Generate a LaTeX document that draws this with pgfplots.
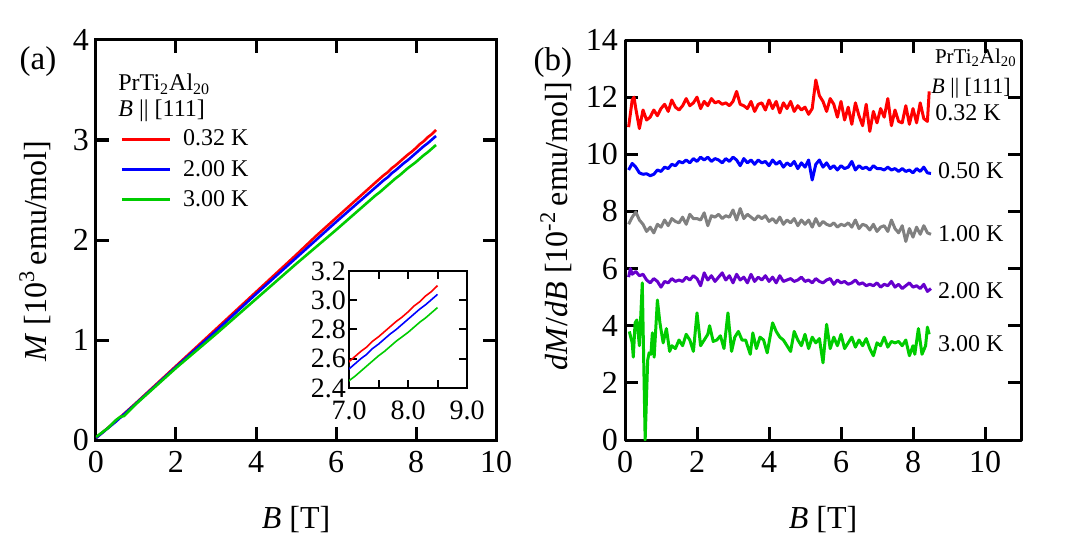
\documentclass[border=0pt]{standalone}
\usepackage{fontspec}
\setmainfont{Liberation Serif}
\usepackage{pgfplots}
\usepackage{pgfplotstable}
\pgfplotsset{compat=1.18}
\definecolor{cred}{RGB}{255,0,0}
\definecolor{cblue}{RGB}{0,0,255}
\definecolor{cgreen}{RGB}{0,204,0}
\definecolor{cgray}{RGB}{128,128,128}
\definecolor{cpurple}{RGB}{102,0,204}

\pgfplotstableread{
B M
0.0 0.02
0.5 0.19
1.0 0.37
2.0 0.74
3.0 1.11
4.0 1.48
5.0 1.85
5.5 2.04
6.0 2.22
6.5 2.40
7.0 2.58
7.1 2.615
7.2 2.65
7.3 2.68
7.4 2.72
7.5 2.75
7.6 2.785
7.7 2.82
7.8 2.855
7.9 2.885
8.0 2.92
8.1 2.96
8.2 2.99
8.3 3.03
8.4 3.06
8.5 3.10
}\redM
\pgfplotstableread{
B M
0.0 0.02
0.5 0.185
1.0 0.365
2.0 0.73
3.0 1.09
4.0 1.46
5.0 1.82
6.0 2.18
6.5 2.355
7.0 2.53
7.1 2.565
7.2 2.60
7.3 2.63
7.4 2.67
7.5 2.70
7.6 2.735
7.7 2.77
7.8 2.80
7.9 2.835
8.0 2.87
8.1 2.905
8.2 2.94
8.3 2.97
8.4 3.005
8.5 3.04
}\blueM
\pgfplotstableread{
B M
0.0 0.03
0.3 0.12
0.5 0.20
0.6 0.23
0.7 0.24
1.0 0.36
2.0 0.72
3.0 1.06
4.0 1.41
5.0 1.76
6.0 2.10
6.5 2.275
7.0 2.45
7.1 2.48
7.2 2.515
7.3 2.55
7.4 2.585
7.5 2.62
7.6 2.65
7.7 2.685
7.8 2.72
7.9 2.75
8.0 2.78
8.1 2.815
8.2 2.85
8.3 2.88
8.4 2.915
8.5 2.95
}\greenM

\pgfplotstableread{
B D
0.1 10.95
0.2 11.9
0.25 12.0
0.3 11.6
0.4 10.9
0.5 11.55
0.6 11.2
0.7 11.3
0.8 11.55
0.9 11.35
1.0 11.6
1.1 11.75
1.2 11.5
1.3 11.9
1.4 11.65
1.5 11.55
1.6 11.7
1.7 11.95
1.8 11.7
1.9 11.8
2.0 12.0
2.1 11.6
2.2 11.85
2.3 11.7
2.4 11.95
2.5 11.8
2.6 11.85
2.7 11.75
2.8 11.8
2.9 11.7
3.0 11.85
3.1 12.2
3.2 11.75
3.3 11.7
3.4 11.6
3.5 11.85
3.6 11.5
3.7 11.75
3.8 11.8
3.9 11.55
4.0 11.9
4.1 11.6
4.2 11.85
4.3 11.45
4.4 11.8
4.5 11.6
4.6 11.85
4.7 11.5
4.8 11.7
4.9 11.55
5.0 11.65
5.1 11.4
5.2 11.6
5.3 12.6
5.4 12.05
5.5 11.85
5.6 11.5
5.7 11.95
5.8 11.75
5.9 11.3
6.0 11.85
6.1 11.2
6.2 11.65
6.3 11.05
6.4 11.8
6.5 11.35
6.6 11.0
6.7 11.75
6.8 10.8
6.9 11.5
7.0 11.1
7.1 11.6
7.2 11.3
7.3 11.95
7.4 11.0
7.5 11.55
7.6 11.15
7.7 11.1
7.8 11.7
7.9 11.05
8.0 11.6
8.1 11.1
8.2 11.8
8.3 11.25
8.4 11.15
8.45 12.2
}\dA
\pgfplotstableread{
B D
0.1 9.45
0.2 9.68
0.3 9.55
0.4 9.35
0.5 9.3
0.6 9.32
0.7 9.25
0.8 9.3
0.9 9.45
1.0 9.4
1.1 9.55
1.2 9.5
1.3 9.65
1.4 9.6
1.5 9.75
1.6 9.7
1.7 9.8
1.8 9.7
1.9 9.85
2.0 9.75
2.1 9.9
2.2 9.8
2.3 9.9
2.4 9.75
2.5 9.85
2.6 9.8
2.7 9.7
2.8 9.85
2.9 9.75
3.0 9.9
3.1 9.8
3.2 9.6
3.3 9.85
3.4 9.7
3.5 9.8
3.6 9.65
3.7 9.8
3.8 9.7
3.9 9.75
4.0 9.6
4.1 9.8
4.2 9.65
4.3 9.75
4.4 9.55
4.5 9.7
4.6 9.6
4.7 9.75
4.8 9.5
4.9 9.7
5.0 9.55
5.1 9.8
5.2 9.1
5.3 9.65
5.4 9.8
5.5 9.55
5.6 9.7
5.7 9.5
5.8 9.6
5.9 9.45
6.0 9.6
6.1 9.5
6.2 9.55
6.3 9.75
6.4 9.45
6.5 9.6
6.6 9.5
6.7 9.55
6.8 9.45
6.9 9.6
7.0 9.5
7.1 9.5
7.2 9.45
7.3 9.55
7.4 9.45
7.5 9.5
7.6 9.4
7.7 9.5
7.8 9.4
7.9 9.45
8.0 9.35
8.1 9.5
8.2 9.4
8.3 9.55
8.4 9.35
8.5 9.33
}\dB
\pgfplotstableread{
B D
0.1 7.55
0.2 7.8
0.3 7.98
0.4 7.7
0.5 7.55
0.6 7.3
0.7 7.45
0.8 7.25
0.9 7.55
1.0 7.45
1.1 7.7
1.2 7.5
1.3 7.75
1.4 7.65
1.5 7.6
1.6 7.8
1.7 7.55
1.8 7.9
1.9 7.75
2.0 7.75
2.1 7.7
2.2 7.95
2.3 7.5
2.4 7.85
2.5 7.8
2.6 7.9
2.7 7.75
2.8 7.85
2.9 7.8
3.0 8.05
3.1 7.7
3.2 8.1
3.3 7.75
3.4 7.9
3.5 7.8
3.6 7.7
3.7 7.85
3.8 7.75
3.9 7.85
4.0 7.65
4.1 7.75
4.2 7.6
4.3 7.8
4.4 7.55
4.5 7.7
4.6 7.6
4.7 7.75
4.8 7.5
4.9 7.7
5.0 7.55
5.1 7.7
5.2 7.45
5.3 7.75
5.4 7.5
5.5 7.65
5.6 7.55
5.7 7.5
5.8 7.6
5.9 7.45
6.0 7.55
6.1 7.5
6.2 7.6
6.3 7.45
6.4 7.7
6.5 7.4
6.6 7.55
6.7 7.5
6.8 7.35
6.9 7.55
7.0 7.3
7.1 7.45
7.2 7.5
7.3 7.3
7.4 7.7
7.5 7.4
7.6 7.25
7.7 7.5
7.8 6.95
7.9 7.4
8.0 7.1
8.1 7.45
8.2 7.2
8.3 7.5
8.4 7.25
8.5 7.2
}\dC
\pgfplotstableread{
B D
0.1 5.7
0.15 6.0
0.2 5.8
0.3 5.9
0.4 5.75
0.5 5.8
0.6 5.6
0.7 5.5
0.8 5.65
0.9 5.55
1.0 5.35
1.1 5.55
1.2 5.5
1.3 5.65
1.4 5.55
1.5 5.6
1.6 5.55
1.7 5.7
1.8 5.6
1.9 5.75
2.0 5.65
2.1 5.4
2.2 5.85
2.3 5.6
2.4 5.75
2.5 5.55
2.6 5.7
2.7 5.85
2.8 5.6
2.9 5.75
3.0 5.5
3.1 5.8
3.2 5.6
3.3 5.7
3.4 5.5
3.5 5.8
3.6 5.55
3.7 5.7
3.8 5.6
3.9 5.75
4.0 5.55
4.1 5.7
4.2 5.5
4.3 5.75
4.4 5.55
4.5 5.6
4.6 5.65
4.7 5.55
4.8 5.6
4.9 5.7
5.0 5.55
5.1 5.6
5.2 5.5
5.3 5.65
5.4 5.55
5.5 5.5
5.6 5.6
5.7 5.65
5.8 5.45
5.9 5.6
6.0 5.5
6.1 5.55
6.2 5.45
6.3 5.5
6.4 5.6
6.5 5.45
6.6 5.5
6.7 5.4
6.8 5.45
6.9 5.4
7.0 5.5
7.1 5.35
7.2 5.45
7.3 5.4
7.4 5.55
7.5 5.35
7.6 5.45
7.7 5.3
7.8 5.4
7.9 5.5
8.0 5.35
8.1 5.4
8.2 5.3
8.3 5.45
8.4 5.2
8.5 5.3
}\dD
\pgfplotstableread{
B D
0.12 3.8
0.2 3.4
0.23 2.9
0.28 4.1
0.33 4.2
0.4 3.3
0.48 5.5
0.56 0.0
0.63 2.8
0.67 3.05
0.72 3.0
0.76 3.75
0.81 2.9
0.9 4.9
0.97 4.1
1.06 3.4
1.15 3.9
1.24 3.1
1.3 3.3
1.4 3.2
1.5 3.5
1.6 3.3
1.7 3.7
1.8 3.5
1.9 3.1
2.0 4.45
2.1 3.3
2.2 3.5
2.3 3.7
2.35 4.0
2.45 3.45
2.55 3.5
2.65 3.65
2.75 3.2
2.86 4.45
2.96 3.1
3.05 3.6
3.15 3.8
3.25 3.5
3.35 3.5
3.48 3.0
3.55 3.75
3.65 3.2
3.75 3.6
3.85 3.5
3.95 3.05
4.1 4.1
4.2 3.8
4.3 3.6
4.4 3.5
4.5 3.3
4.6 3.1
4.7 3.8
4.8 3.5
4.9 3.3
5.0 3.7
5.1 3.2
5.2 3.6
5.3 3.4
5.4 3.55
5.5 2.7
5.6 4.05
5.7 3.2
5.8 3.6
5.9 3.3
6.0 3.7
6.1 3.2
6.2 3.4
6.3 3.6
6.4 3.25
6.5 3.5
6.6 3.3
6.7 3.55
6.8 3.2
6.9 2.95
7.0 3.4
7.1 3.3
7.2 3.6
7.3 3.25
7.4 3.45
7.5 3.4
7.6 3.45
7.7 3.3
7.8 3.5
7.9 2.95
8.0 3.3
8.05 3.0
8.15 3.9
8.25 3.0
8.35 3.3
8.4 3.95
8.45 3.7
}\dE

\pgfplotsset{
  mystyle/.style={
    scale only axis,
    clip mode=individual,
    axis line style={line width=1.5pt},
    every tick/.style={line width=1.5pt, black},
    major tick length=6.5pt,
    tick align=inside,
    /pgf/number format/assume math mode=true,
    tick label style={font=\fontsize{16}{18}\selectfont},
    label style={font=\fontsize{16}{18}\selectfont},
    xticklabel shift=2pt,
  }
}

\begin{document}
\begin{tikzpicture}
\path[use as bounding box] (-48pt,-51pt) rectangle (498pt,220pt);

% ---------- panel (a)
\begin{axis}[mystyle,
  at={(0pt,0pt)}, anchor=south west,
  width=200pt, height=200pt,
  xmin=0, xmax=10, ymin=0, ymax=4,
  xtick={0,2,4,6,8,10}, ytick={0,1,2,3,4},
  xlabel={\textit{B} [T]},
  ylabel={\textit{M} [10\textsuperscript{3}\,emu/mol]},
  xlabel style={at={(axis description cs:0.5,-0.2)}, anchor=center},
  ylabel style={at={(axis description cs:-0.1525,0.4725)}, anchor=center},
  legend style={at={(axis description cs:0.06,0.79)}, anchor=north west,
    draw=none, fill=none, font=\fontsize{12}{14}\selectfont,
    inner sep=0pt, row sep=0pt},
  legend cell align=left,
  legend image code/.code={\path (0pt,-6.9pt) (28pt,6.9pt);
    \draw[#1, line width=1.5pt] (0pt,0pt) -- (24pt,0pt);},
]
\addplot[cred, line width=1.3pt] table[x=B, y=M] {\redM};
\addlegendentry{0.32 K}
\addplot[cblue, line width=1.3pt] table[x=B, y=M] {\blueM};
\addlegendentry{2.00 K}
\addplot[cgreen, line width=1.3pt] table[x=B, y=M] {\greenM};
\addlegendentry{3.00 K}
\node[anchor=west, inner sep=0pt, font=\fontsize{12}{14}\selectfont] at (axis description cs:0.055,0.89) {PrTi\textsubscript{2}Al\textsubscript{20}};
\node[anchor=west, inner sep=0pt, font=\fontsize{12}{14}\selectfont] at (axis description cs:0.055,0.823) {\textit{B} \textbar\textbar\ [111]};
\node[font=\fontsize{16.5}{18}\selectfont] at (axis description cs:-0.145,0.945) {(a)};
\end{axis}

% ---------- inset
\begin{axis}[
  scale only axis,
  at={(126.5pt,26pt)}, anchor=south west,
  width=59pt, height=58.5pt,
  axis background/.style={fill=white},
  axis line style={line width=1pt},
  every tick/.style={line width=1pt, black},
  major tick length=4pt,
  tick align=inside,
  /pgf/number format/assume math mode=true,
  tick label style={font=\fontsize{14}{16}\selectfont},
  xmin=7, xmax=9, ymin=2.4, ymax=3.2,
  xtick={7,7.5,8,8.5,9}, xticklabels={7.0,,8.0,,9.0},
  ytick={2.4,2.6,2.8,3.0,3.2},
  yticklabel style={/pgf/number format/fixed, /pgf/number format/fixed zerofill, /pgf/number format/precision=1},
  yticklabel shift=-2pt,
  xticklabel shift=3pt,
]
\addplot[cred, line width=0.8pt] table[x=B, y=M] {\redM};
\addplot[cblue, line width=0.8pt] table[x=B, y=M] {\blueM};
\addplot[cgreen, line width=0.8pt] table[x=B, y=M] {\greenM};
\end{axis}

% ---------- panel (b)
\begin{axis}[mystyle,
  at={(264.5pt,0pt)}, anchor=south west,
  width=198pt, height=200pt,
  xmin=0, xmax=11, ymin=0, ymax=14,
  xtick={0,2,4,6,8,10}, ytick={0,2,4,6,8,10,12,14},
  xlabel={\textit{B} [T]},
  ylabel={\textit{dM}/\textit{dB} [10\textsuperscript{-2}\,emu/mol]},
  xlabel style={at={(axis description cs:0.5,-0.2)}, anchor=center},
  ylabel style={at={(axis description cs:-0.174,0.535)}, anchor=center},
  line join=round,
]
\addplot[cred, line width=1.5pt] table[x=B, y=D] {\dA};
\addplot[cblue, line width=1.5pt] table[x=B, y=D] {\dB};
\addplot[cgray, line width=1.5pt] table[x=B, y=D] {\dC};
\addplot[cpurple, line width=1.5pt] table[x=B, y=D] {\dD};
\addplot[cgreen, line width=1.5pt] table[x=B, y=D] {\dE};
\node[anchor=east, inner sep=0pt, font=\fontsize{10.5}{12}\selectfont] at (axis description cs:0.99,0.955) {PrTi\textsubscript{2}Al\textsubscript{20}};
\node[anchor=east, inner sep=0pt, font=\fontsize{11}{12}\selectfont] at (axis description cs:0.975,0.88) {\textit{B} \textbar\textbar\ [111]};
\node[anchor=west, inner sep=0pt, font=\fontsize{12}{14}\selectfont] at (axis description cs:0.783,0.8175) {0.32 K};
\node[anchor=west, inner sep=0pt, font=\fontsize{12}{14}\selectfont] at (axis description cs:0.79,0.6725) {0.50 K};
\node[anchor=west, inner sep=0pt, font=\fontsize{12}{14}\selectfont] at (axis description cs:0.79,0.515) {1.00 K};
\node[anchor=west, inner sep=0pt, font=\fontsize{12}{14}\selectfont] at (axis description cs:0.79,0.3725) {2.00 K};
\node[anchor=west, inner sep=0pt, font=\fontsize{12}{14}\selectfont] at (axis description cs:0.79,0.24) {3.00 K};
\node[font=\fontsize{16.5}{18}\selectfont] at (axis description cs:-0.182,0.943) {(b)};
\end{axis}
\end{tikzpicture}
\end{document}
